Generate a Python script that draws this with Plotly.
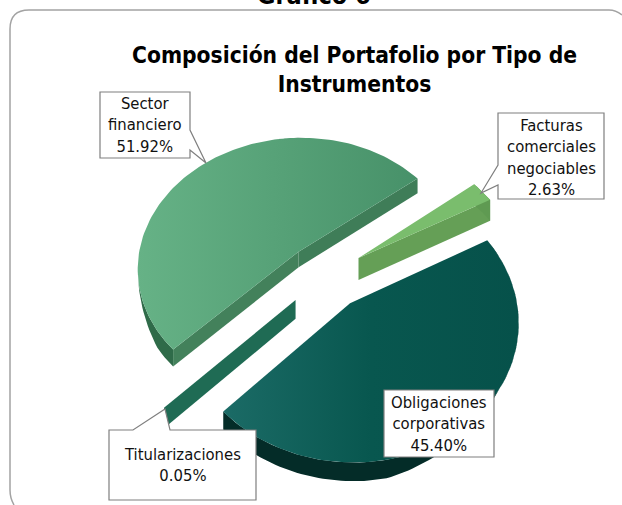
import numpy as np
import plotly.graph_objects as go

categories = ["Sector financiero", "Titularizaciones", "Obligaciones corporativas", "Facturas comerciales negociables"]
label_lines = ["Sector<br>financiero", "Titularizaciones", "Obligaciones<br>corporativas", "Facturas<br>comerciales<br>negociables"]
values = [51.92, 0.05, 45.40, 2.63]

# Tilted, exploded pie projection
CX, CY, A, B, K, PULL, DEPTH, START = 325, 276, 163, 133, 0.12, 0.25, 16, 38


def project(X, Y, z=0.0):
    s = 1 + K * np.asarray(Y)
    return CX + A * np.asarray(X) / s, CY - B * np.asarray(Y) / s + DEPTH * np.asarray(z) / s


def slice_geometry(a0, a1):
    mid = np.radians((a0 + a1) / 2)
    ox, oy = PULL * np.cos(mid), PULL * np.sin(mid)
    deg = np.linspace(a0, a1, 120)
    t = np.radians(deg)
    return ox, oy, ox + np.cos(t), oy + np.sin(t), deg


def poly(fig, x, y, color=None, grad=None, name=""):
    kw = dict(fillgradient=dict(type="horizontal", colorscale=grad)) if grad else dict(fillcolor=color)
    fig.add_trace(go.Scatter(x=np.r_[x, x[0]], y=np.r_[y, y[0]], mode="lines", fill="toself",
                             line=dict(width=0, color="rgba(0,0,0,0)"), hoverinfo="skip",
                             showlegend=False, name=name, **kw))


def wall_rim(fig, rx, ry, color, z):
    x0, y0 = project(rx, ry, 0 * rx)
    x1, y1 = project(rx, ry, z)
    poly(fig, np.r_[x0, x1[::-1]], np.r_[y0, y1[::-1]], color)


def wall_edge(fig, ox, oy, ex, ey, color, depth=1.0):
    X = np.array([ox, ex, ex, ox])
    Y = np.array([oy, ey, ey, oy])
    Z = np.array([0, 0, depth, depth])
    x, y = project(X, Y, Z)
    poly(fig, x, y, color)


fig = go.Figure()
angle = START
geoms = []
for v in values:
    a1 = angle + v * 3.6
    geoms.append((angle, a1))
    angle = a1

# Sector financiero
ox, oy, rx, ry, deg = slice_geometry(*geoms[0])
wall_rim(fig, rx, ry, "#2f6b49", np.clip((deg - 190) / 25, 0, 1))
wall_edge(fig, ox, oy, rx[0], ry[0], "#3f7d58")
wall_edge(fig, ox, oy, rx[-1], ry[-1], "#43815b")
x, y = project(np.r_[ox, rx], np.r_[oy, ry])
poly(fig, x, y, grad=[[0, "#66b286"], [1, "#479169"]], name=categories[0])

# Titularizaciones (thin slice: only its wall is visible)
ox, oy, rx, ry, deg = slice_geometry(*geoms[1])
wall_edge(fig, ox, oy, rx[-1], ry[-1], "#1f6b54", 1.15)

# Obligaciones corporativas
ox, oy, rx, ry, deg = slice_geometry(*geoms[2])
wall_rim(fig, rx, ry, "#042c28", np.clip((325 - deg) / 45, 0, 1))
x, y = project(np.r_[ox, rx], np.r_[oy, ry])
poly(fig, x, y, grad=[[0, "#1b6b66"], [0.5, "#08574f"], [1, "#06514a"]], name=categories[2])

# Facturas comerciales negociables
ox, oy, rx, ry, deg = slice_geometry(*geoms[3])
wall_edge(fig, ox, oy, rx[0], ry[0], "#659f56", 1.4)
wall_rim(fig, rx, ry, "#5f9a52", 1.4 + 0 * rx)
x, y = project(np.r_[ox, rx], np.r_[oy, ry])
poly(fig, x, y, "#7abd6d", name=categories[3])

FRAME = "#a3a3a3"
BOX = "#7f7f7f"
shapes = [
    dict(type="path", layer="below", line=dict(color=FRAME, width=1.5),
         path="M 14 505 Q 10 498 10 490 L 10 29 Q 10 10 29 10 L 609 10 Q 616 10 622 15"),
]


def callout(x0, y0, x1, y1, pointer=None):
    if pointer:
        pts = [(x0, y0)]
        side, p1, tip, p2 = pointer
        if side == "top":
            pts += [(p1, y0), tip, (p2, y0), (x1, y0), (x1, y1), (x0, y1)]
        elif side == "right":
            pts += [(x1, y0), (x1, p1), tip, (x1, p2), (x1, y1), (x0, y1)]
        else:
            pts += [(x1, y0), (x1, y1), (x0, y1), (x0, p2), tip, (x0, p1)]
    else:
        pts = [(x0, y0), (x1, y0), (x1, y1), (x0, y1)]
    path = "M " + " L ".join(f"{a} {b}" for a, b in pts) + " Z"
    shapes.append(dict(type="path", path=path, fillcolor="white", line=dict(color=BOX, width=1.2), layer="above"))


callout(100, 92, 190, 158, ("right", 130, (206, 163), 150))
callout(109, 430, 256, 500, ("top", 133, (165, 409), 170))
callout(384, 390, 494, 457)
callout(498, 113, 604, 199, ("left", 165, (481, 193), 185))

FONT = "DejaVu Sans Condensed, DejaVu Sans"
label_pos = [(145, 125), (182, 465), (439, 423.5), (551, 157)]
annotations = [
    dict(x=lx, y=ly, xref="x", yref="y", showarrow=False, align="center",
         text=f"{t}<br>{v:.2f}%", font=dict(family=FONT, size=16.5, color="#111111"))
    for (lx, ly), t, v in zip(label_pos, label_lines, values)
]
annotations += [
    dict(x=314, y=1.0, xref="x", yref="paper", yanchor="middle", yshift=5, showarrow=False, text="<b>Gráfico 6</b>",
         font=dict(family=FONT, size=25, color="black")),
    dict(x=354, y=69, xref="x", yref="y", showarrow=False, align="center",
         text="<b>Composición del Portafolio por Tipo de<br>Instrumentos</b>",
         font=dict(family=FONT, size=22.6, color="black")),
]

fig.update_layout(
    width=622, height=505, margin=dict(l=0, r=0, t=0, b=0),
    paper_bgcolor="white", plot_bgcolor="white", showlegend=False,
    xaxis=dict(range=[0, 622], visible=False, fixedrange=True),
    yaxis=dict(range=[505, 0], visible=False, fixedrange=True),
    shapes=shapes, annotations=annotations,
)
fig.write_html("out.html", config=dict(displayModeBar=False),
               post_script="document.body.style.margin='0';")
